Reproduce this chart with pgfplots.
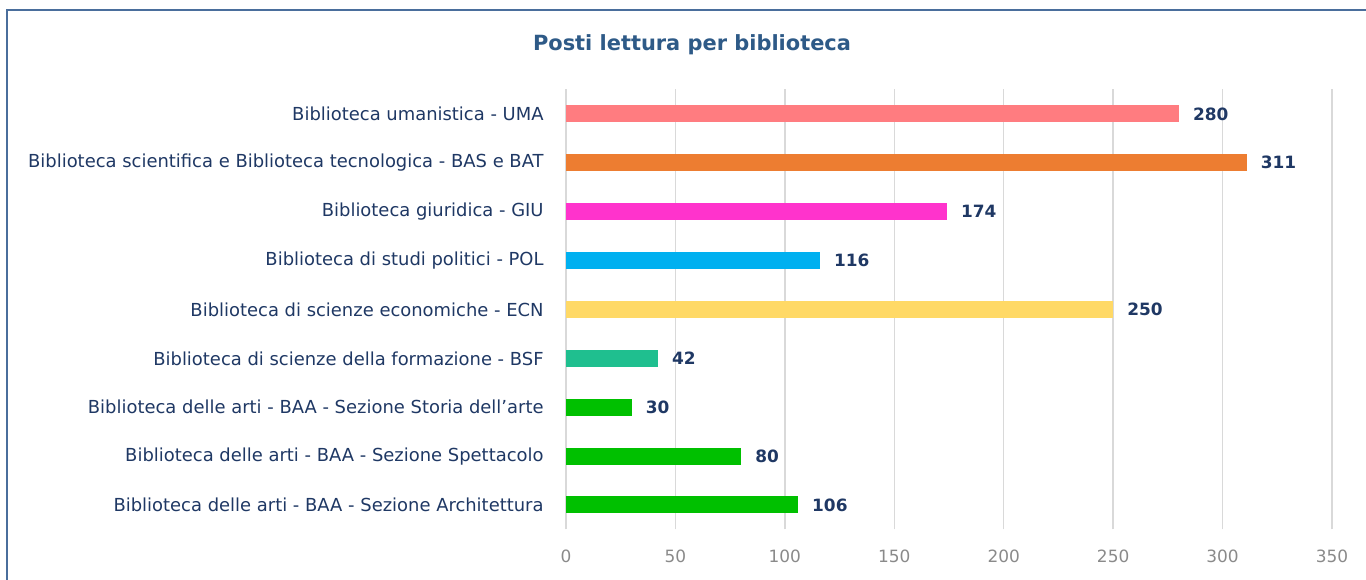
\documentclass[border=0pt]{standalone}
\usepackage{fontspec}
\setmainfont{DejaVu Sans}
\usepackage{pgfplots}
\pgfplotsset{compat=1.18}
\definecolor{framecol}{HTML}{4A6E9C}
\definecolor{titlecol}{HTML}{2E5A87}
\definecolor{navy}{HTML}{1F3864}
\definecolor{tickgray}{HTML}{8A8A8A}
\definecolor{gridgray}{HTML}{D9D9D9}
\definecolor{cUMA}{HTML}{FF7C80}
\definecolor{cBAS}{HTML}{ED7D31}
\definecolor{cGIU}{HTML}{FF33CC}
\definecolor{cPOL}{HTML}{00B0F0}
\definecolor{cECN}{HTML}{FFD966}
\definecolor{cBSF}{HTML}{1FBF8F}
\definecolor{cBAA}{HTML}{00C000}
\begin{document}
\begin{tikzpicture}
\useasboundingbox (0bp,0bp) rectangle (1366bp,580bp);
\draw[framecol, line width=2bp] (7bp,0bp) -- (7bp,570bp) -- (1366bp,570bp);
\node[font=\fontsize{21}{25}\selectfont\bfseries, text=titlecol] at (692bp,535bp) {Posti lettura per biblioteca};
\begin{axis}[
  at={(566bp,75bp)}, anchor=origin,
  scale only axis, width=766bp, height=440bp,
  xmin=0, xmax=350, ymin=-0.5, ymax=8.5,
  xbar, bar width=17bp, bar shift=0pt,
  axis line style={draw=none},
  major tick style={draw=none},
  xtick={0,50,...,350},
  xmajorgrids, grid style={gridgray, line width=1.5bp},
  ytick={0,...,8},
  yticklabels={
    Biblioteca delle arti - BAA - Sezione Architettura,
    Biblioteca delle arti - BAA - Sezione Spettacolo,
    Biblioteca delle arti - BAA - Sezione Storia dell'arte,
    Biblioteca di scienze della formazione - BSF,
    Biblioteca di scienze economiche - ECN,
    Biblioteca di studi politici - POL,
    Biblioteca giuridica - GIU,
    Biblioteca scientifica e Biblioteca tecnologica - BAS e BAT,
    Biblioteca umanistica - UMA},
  yticklabel style={font=\fontsize{18}{21}\selectfont, text=navy, anchor=east, inner sep=0pt, xshift=-18bp},
  xticklabel style={font=\fontsize{17}{20}\selectfont, text=tickgray, anchor=center, inner sep=0pt, yshift=-26.5bp},
  /pgf/number format/assume math mode=true,
  nodes near coords,
  every node near coord/.append style={font=\fontsize{17}{20}\selectfont\bfseries, text=navy, anchor=west, inner sep=0pt, xshift=14bp},
  clip=false,
]
\addplot[fill=cBAA, draw=none] coordinates {(106,0)};
\addplot[fill=cBAA, draw=none] coordinates {(80,1)};
\addplot[fill=cBAA, draw=none] coordinates {(30,2)};
\addplot[fill=cBSF, draw=none] coordinates {(42,3)};
\addplot[fill=cECN, draw=none] coordinates {(250,4)};
\addplot[fill=cPOL, draw=none] coordinates {(116,5)};
\addplot[fill=cGIU, draw=none] coordinates {(174,6)};
\addplot[fill=cBAS, draw=none] coordinates {(311,7)};
\addplot[fill=cUMA, draw=none] coordinates {(280,8)};
\end{axis}
\end{tikzpicture}
\end{document}
